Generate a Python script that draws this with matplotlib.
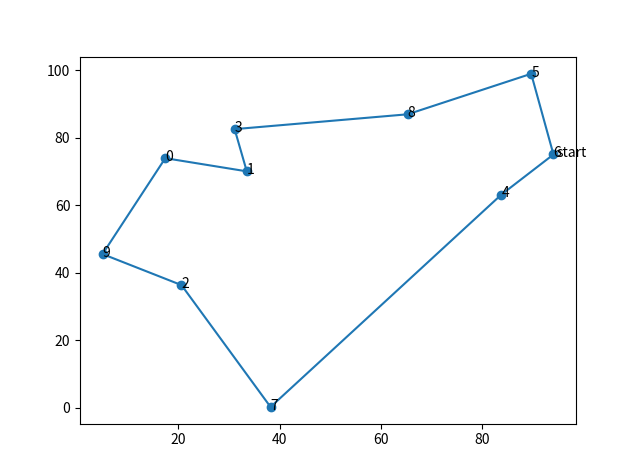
import matplotlib
matplotlib.use('Agg')
import matplotlib.pyplot as plt
import numpy as np

plt.rcParams['font.family'] = ['Noto Sans CJK SC', 'DejaVu Sans']
plt.rcParams['axes.unicode_minus'] = False

# city coordinates, index = city number
city_x = [17.4, 33.5, 20.6, 31.1, 83.8, 89.7, 94.1, 38.2, 65.3, 5.0]
city_y = [74.0, 70.1, 36.4, 82.6, 63.2, 99.0, 75.1, 0.3, 87.0, 45.6]

# visiting order, starts and ends at city 6
route = [6, 5, 8, 3, 1, 0, 9, 2, 7, 4, 6]
start = 6

fig = plt.figure(figsize=(6.4, 4.76), dpi=100)
ax = fig.add_subplot(111)

ax.scatter(city_x, city_y)
ax.plot([city_x[i] for i in route], [city_y[i] for i in route])

for i in range(len(city_x)):
    ax.annotate(str(i), (city_x[i], city_y[i]), xytext=(0, -2), textcoords='offset points')
ax.annotate('start', (city_x[start], city_y[start]), xytext=(2.5, -2), textcoords='offset points')

plt.savefig('out.png')
